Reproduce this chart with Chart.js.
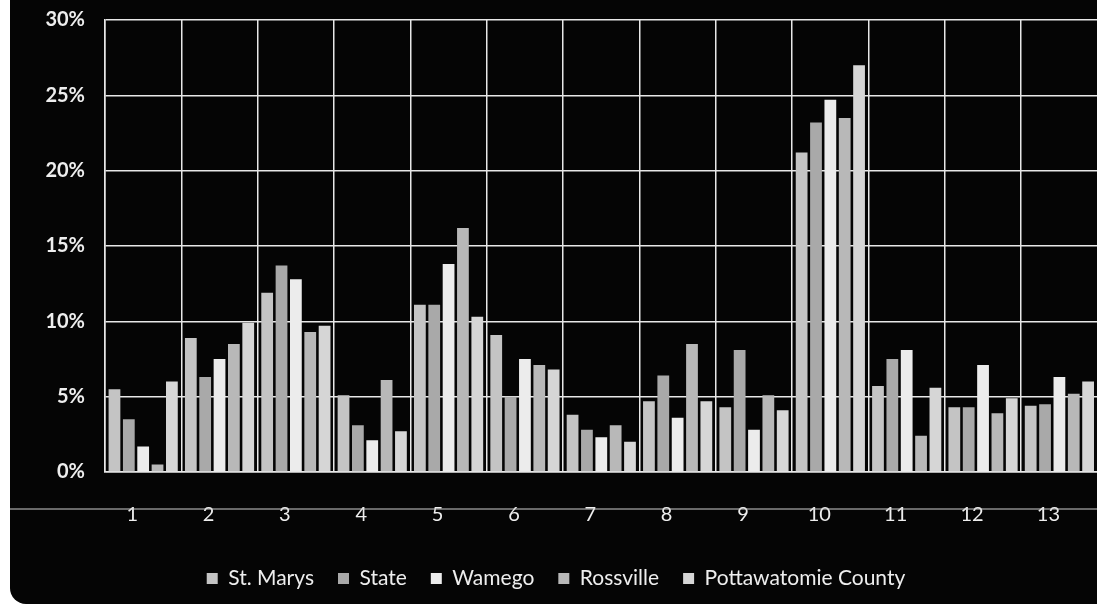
<!DOCTYPE html>
<html>
<head>
<meta charset="utf-8">
<script src="https://cdn.jsdelivr.net/npm/chart.js@4.4.0/dist/chart.umd.min.js"></script>
<style>
  html, body { margin: 0; padding: 0; background: #fff; overflow: hidden; }
  #wrap { position: absolute; left: 10px; top: 0; width: 1095px; height: 604px;
          border-radius: 0 0 0 16px; overflow: hidden; background: #050505; }
  canvas { display: block; margin-top: -12px; }
</style>
</head>
<body>
<div id="wrap"><canvas id="bar-chart" width="1092" height="616"></canvas></div>
<script>
var categories = ["1", "2", "3", "4", "5", "6", "7", "8", "9", "10", "11", "12", "13"];
var yTicks = [0, 5, 10, 15, 20, 25, 30];

var stMarys      = [5.5, 8.9, 11.9, 5.1, 11.1, 9.1, 3.8, 4.7, 4.3, 21.2, 5.7, 4.3, 4.4];
var state        = [3.5, 6.3, 13.7, 3.1, 11.1, 5.0, 2.8, 6.4, 8.1, 23.2, 7.5, 4.3, 4.5];
var wamego       = [1.7, 7.5, 12.8, 2.1, 13.8, 7.5, 2.3, 3.6, 2.8, 24.7, 8.1, 7.1, 6.3];
var rossville    = [0.5, 8.5, 9.3, 6.1, 16.2, 7.1, 3.1, 8.5, 5.1, 23.5, 2.4, 3.9, 5.2];
var pottawatomie = [6.0, 9.9, 9.7, 2.7, 10.3, 6.8, 2.0, 4.7, 4.1, 27.0, 5.6, 4.9, 6.0];

var seriesNames = ["St. Marys", "State", "Wamego", "Rossville", "Pottawatomie County"];
var seriesColors = ["#c4c4c4", "#a9a9a9", "#ececec", "#b8b8b8", "#d6d6d6"];

// line running through the x labels, like in the scanned sheet
var labelLine = {
  id: "labelLine",
  afterDraw: function(chart) {
    var ctx = chart.ctx;
    var y = chart.scales.x.top + 37;
    ctx.save();
    ctx.strokeStyle = "#cfcfcf";
    ctx.lineWidth = 1;
    ctx.beginPath();
    ctx.moveTo(0, y);
    ctx.lineTo(chart.width, y);
    ctx.stroke();
    ctx.restore();
  }
};

var CHART = document.getElementById("bar-chart");
var allData = [stMarys, state, wamego, rossville, pottawatomie];

var barChart = new Chart(CHART, {
  type: "bar",
  data: {
    labels: categories,
    datasets: allData.map(function(d, i) {
      return {
        label: seriesNames[i],
        data: d,
        backgroundColor: seriesColors[i],
        borderWidth: 0
      };
    })
  },
  plugins: [labelLine],
  options: {
    responsive: false,
    animation: false,
    layout: { padding: { top: 0, right: 0, left: 0, bottom: 5 } },
    datasets: { bar: { categoryPercentage: 0.94, barPercentage: 0.82 } },
    scales: {
      x: {
        grid: { color: "#e8e8e8", lineWidth: 1.5, offset: true, drawTicks: false },
        border: { color: "#e8e8e8", width: 1.5 },
        ticks: { color: "#eeeeee", padding: 31, labelOffset: -11, font: { family: "Lato", size: 20 } },
        afterFit: function(scale) { scale.height = 72; }
      },
      y: {
        min: 0,
        max: 30,
        afterBuildTicks: function(scale) {
          scale.ticks = yTicks.map(function(v) { return { value: v }; });
        },
        grid: { color: "#e8e8e8", lineWidth: 1.5, drawTicks: false },
        border: { color: "#e8e8e8", width: 1.5 },
        ticks: {
          color: "#eeeeee",
          padding: 20,
          font: { family: "Lato", size: 20, weight: "bold" },
          callback: function(v) { return v + "%"; }
        },
        afterFit: function(scale) { scale.width = 95; }
      }
    },
    plugins: {
      legend: {
        position: "bottom",
        labels: {
          color: "#eeeeee",
          boxWidth: 11,
          boxHeight: 11,
          padding: 24,
          font: { family: "Lato", size: 21 }
        }
      },
      tooltip: { enabled: false }
    }
  }
});
</script>
</body>
</html>
